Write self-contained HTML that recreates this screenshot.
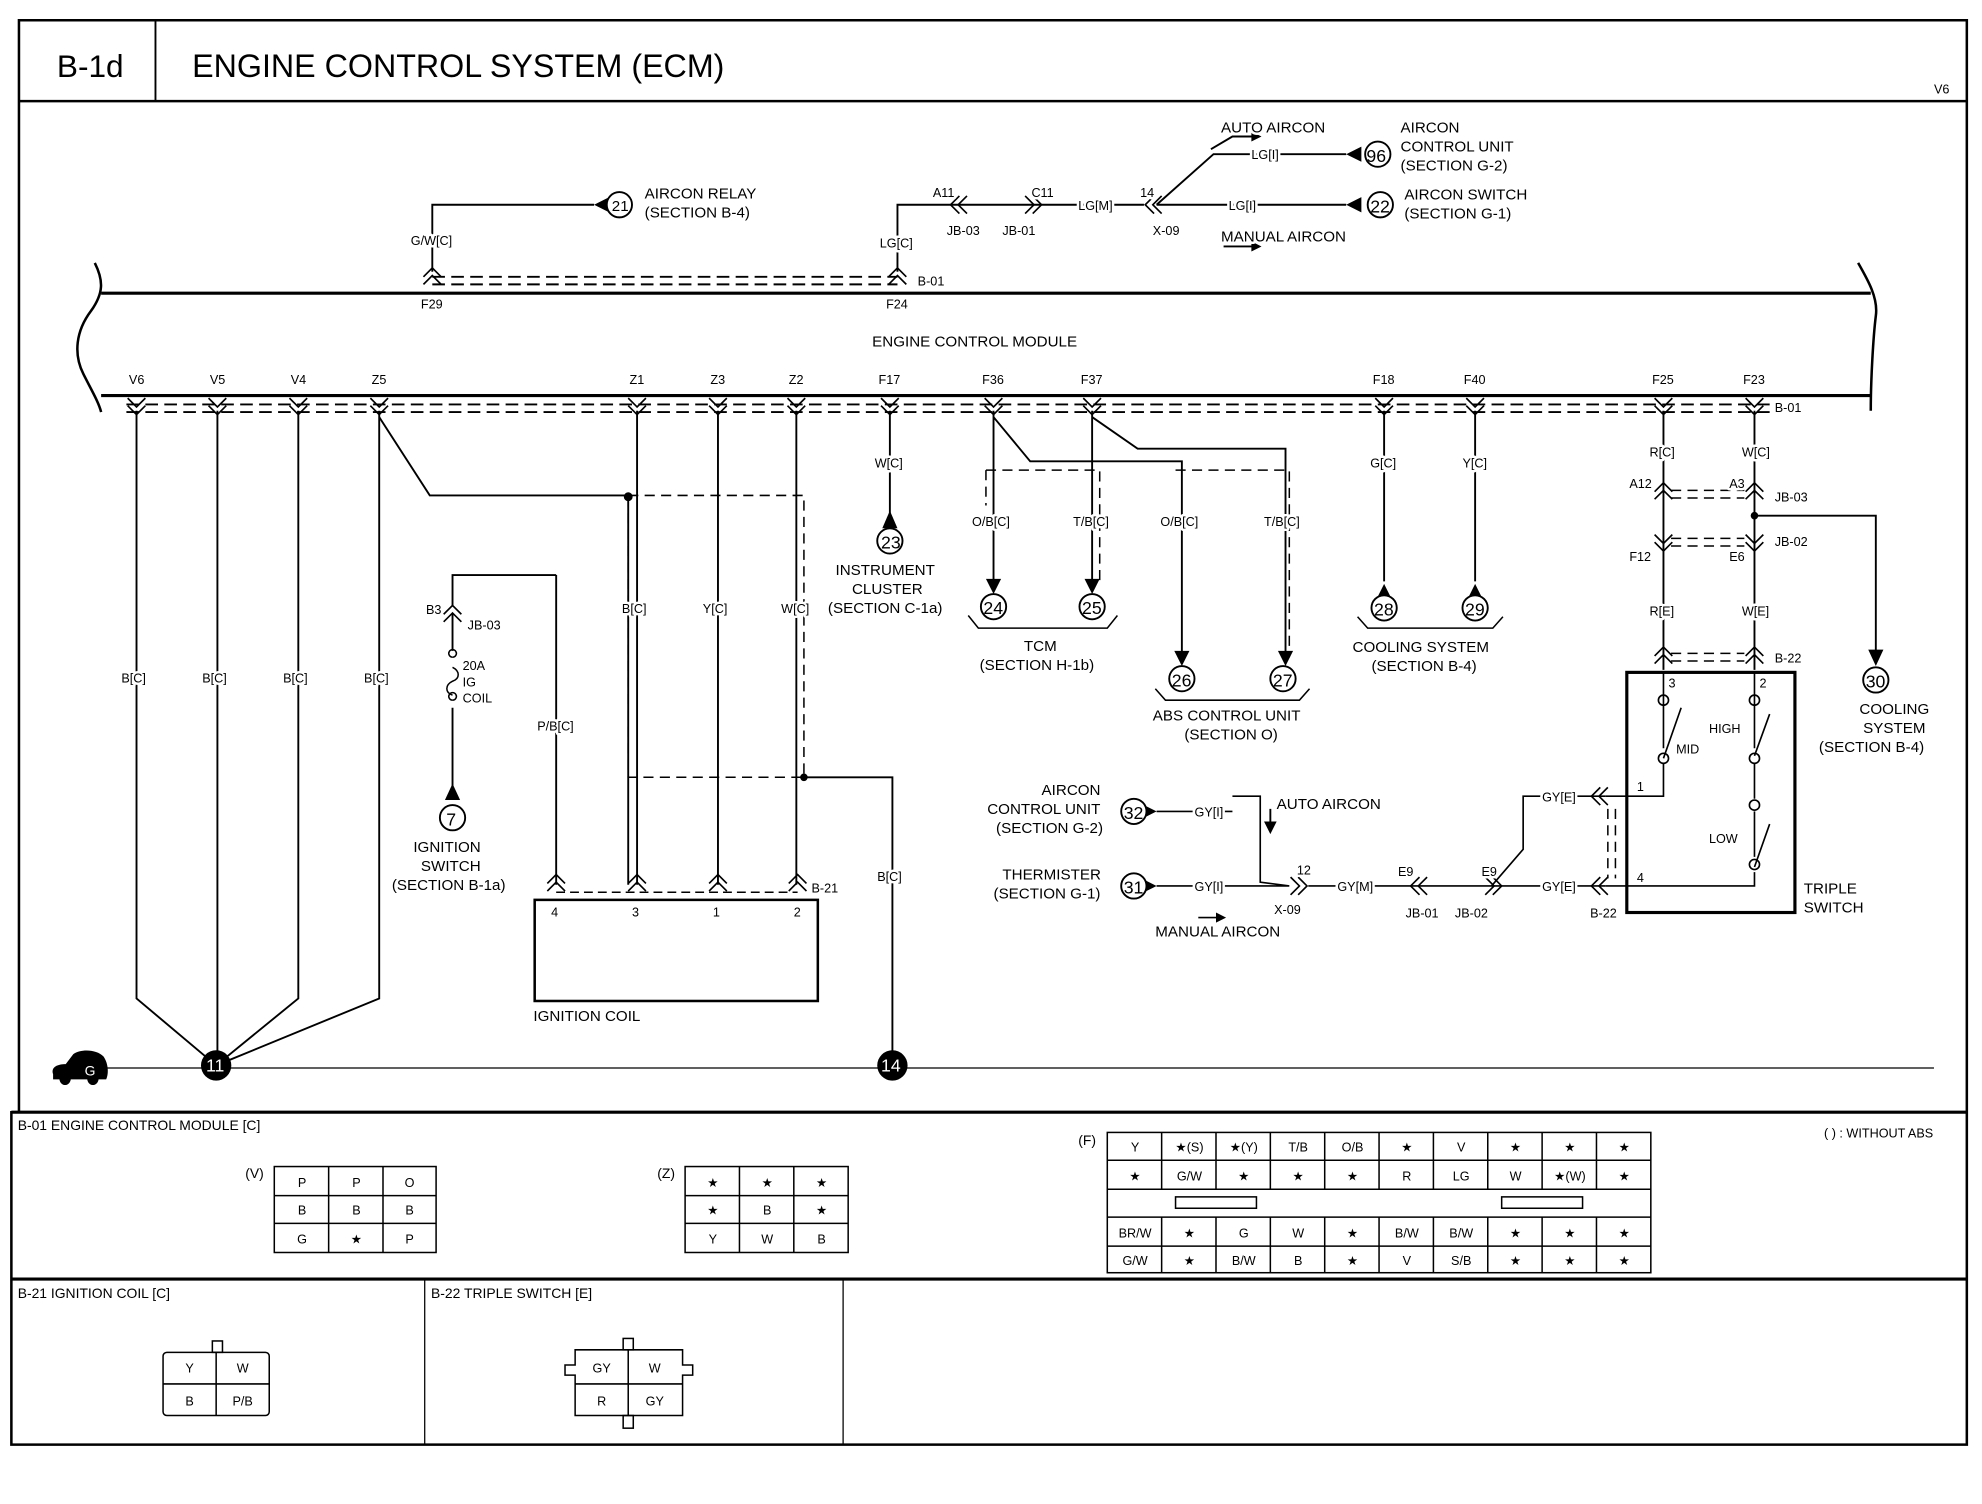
<!DOCTYPE html>
<html><head><meta charset="utf-8"><style>
html,body{margin:0;padding:0;background:#fff;}
svg{display:block;}
text{font-family:"Liberation Sans",sans-serif;fill:#000;}
.lb text{stroke:#fff;stroke-width:4px;paint-order:stroke;stroke-linejoin:round;}
</style></head><body>
<svg width="1982" height="1504" viewBox="0 0 1568 1190" preserveAspectRatio="none" xmlns="http://www.w3.org/2000/svg">
<defs>
<path id="cd" d="M-7,-7 L0,0 L7,-7 M-7,-1 L0,6 L7,-1" fill="none" stroke="#000" stroke-width="1.3"/>
<path id="cu" d="M-7,7 L0,0 L7,7 M-7,1 L0,-6 L7,1" fill="none" stroke="#000" stroke-width="1.3"/>
<path id="cr" d="M-7,-7 L0,0 L-7,7 M-1,-7 L6,0 L-1,7" fill="none" stroke="#000" stroke-width="1.3"/>
<path id="cl" d="M7,-7 L0,0 L7,7 M1,-7 L-6,0 L1,7" fill="none" stroke="#000" stroke-width="1.3"/>
</defs>
<g fill="none" stroke="#000">
<path d="M15,16 H1556 V1143 H9 V880 H15 Z" stroke-width="2"/>
<line x1="15" y1="80" x2="1556" y2="80" stroke-width="2"/>
<line x1="123" y1="16" x2="123" y2="80" stroke-width="1.5"/>
<line x1="9" y1="880" x2="1556" y2="880" stroke-width="2.5"/>
<line x1="9" y1="1012" x2="1556" y2="1012" stroke-width="2.5"/>
<line x1="336" y1="1012" x2="336" y2="1143" stroke-width="1"/>
<line x1="667" y1="1012" x2="667" y2="1143" stroke-width="1"/>
<line x1="80" y1="232" x2="1480" y2="232" stroke-width="2.5"/>
<line x1="80" y1="313" x2="1480" y2="313" stroke-width="2.5"/>
<path d="M75,208 C82,222 82,232 72,246 C60,262 58,280 66,296 C72,308 78,318 80,326" stroke-width="2"/>
<path d="M1470,208 C1478,222 1486,236 1484,250 C1482,266 1480,300 1480,325" stroke-width="2"/>
<line x1="100" y1="320" x2="1400" y2="320" stroke-width="1.5" stroke-dasharray="10,5"/>
<line x1="100" y1="326" x2="1400" y2="326" stroke-width="1.5" stroke-dasharray="10,5"/>
<line x1="342" y1="219" x2="710" y2="219" stroke-width="1.5" stroke-dasharray="10,5"/>
<line x1="342" y1="225" x2="710" y2="225" stroke-width="1.5" stroke-dasharray="10,5"/>
<path d="M342,215 V162 H470" stroke-width="1.5"/>
<path d="M710,215 V162 H905" stroke-width="1.5"/>
<path d="M915,162 H1065 M915,162 L960,122 H1065 M958,118 L975,108 H995" stroke-width="1.5"/>
<path d="M968,195 H995" stroke-width="1.5"/>
<path d="M108,325 V790 L171,843 M172,325 V843 M236,325 V790 L171,843 M300,325 V790 L171,843" stroke-width="1.5"/>
<path d="M300,330 L340,392 H497 V700 M504,325 V700 M568,325 V700 M630,325 V700" stroke-width="1.5"/>
<path d="M497,392 H636 V615 H497 V392" stroke-width="1.2" stroke-dasharray="8,5"/>
<path d="M636,615 H706 V843" stroke-width="1.5"/>
<line x1="440" y1="455" x2="440" y2="700" stroke-width="1.5"/>
<path d="M358,480 V455 H440" stroke-width="1.5"/>
<path d="M358,485 V515 M358,560 V625" stroke-width="1.5"/>
<path d="M358,520 a3,3 0 1 1 0.1,0 M358,528 c6,3 6,9 0,11 c-6,3 -6,9 0,11 M358,554 a3,3 0 1 1 0.1,0" stroke-width="1.2"/>
<rect x="423" y="712" width="224" height="80" stroke-width="2"/>
<line x1="440" y1="706" x2="631" y2="706" stroke-width="1.2" stroke-dasharray="7,4"/>
<line x1="704" y1="325" x2="704" y2="412" stroke-width="1.5"/>
<path d="M786,325 V460 M864,325 V460" stroke-width="1.5"/>
<path d="M786,330 L815,365 H935 V520 M864,330 L900,355 H1017 V520" stroke-width="1.5"/>
<path d="M780,372 H870 V460 M780,372 V400" stroke-width="1.2" stroke-dasharray="8,5"/>
<path d="M930,372 H1020 V520" stroke-width="1.2" stroke-dasharray="8,5"/>
<path d="M1095,325 V460 M1167,325 V460" stroke-width="1.5"/>
<path d="M1316,325 V530 M1388,325 V530" stroke-width="1.5"/>
<path d="M1322,388 H1380 M1322,394 H1380 M1322,426 H1380 M1322,432 H1380 M1322,517 H1380 M1322,523 H1380" stroke-width="1.2" stroke-dasharray="8,5"/>
<path d="M1388,408 H1484 V520" stroke-width="1.5"/>
<circle cx="1388" cy="408" r="2.5" fill="#000"/>
<circle cx="497" cy="393" r="3" fill="#000"/>
<circle cx="636" cy="615" r="2.5" fill="#000"/>
<rect x="1287" y="532" width="133" height="190" stroke-width="2.5"/>
<path d="M1316,532 V592 M1316,604 V630 H1270 M1388,532 V592 M1388,604 V632 M1388,642 V678 M1388,690 V701 H1270" stroke-width="1.3"/>
<path d="M1316,600 L1330,560 M1388,598 L1400,565 M1388,686 L1400,652" stroke-width="1.3"/>
<circle cx="1316" cy="554" r="4" stroke-width="1.3"/><circle cx="1316" cy="600" r="4" stroke-width="1.3"/>
<circle cx="1388" cy="554" r="4" stroke-width="1.3"/><circle cx="1388" cy="600" r="4" stroke-width="1.3"/>
<circle cx="1388" cy="637" r="4" stroke-width="1.3"/><circle cx="1388" cy="684" r="4" stroke-width="1.3"/>
<path d="M1272,640 V695 M1278,640 V695" stroke-width="1.2" stroke-dasharray="8,5"/>
<path d="M915,642 H975 M915,701 H1020 M975,630 H997 V698 L1020,701 M1035,701 H1270 M1180,701 L1205,672 V630 H1270" stroke-width="1.3"/>
<path d="M1005,640 V655" stroke-width="1.5"/>
<path d="M948,726 H965" stroke-width="1.3"/>
<line x1="85" y1="845" x2="1530" y2="845" stroke-width="1"/>
</g>
<g fill="#000">
<path d="M470,162 L482,156 L482,168Z"/>
<path d="M1065,122 L1077,116 L1077,128Z"/>
<path d="M1065,162 L1077,156 L1077,168Z"/>
<path d="M704,404 L698,418 L710,418Z"/>
<path d="M786,470 L780,458 L792,458Z"/>
<path d="M864,470 L858,458 L870,458Z"/>
<path d="M935,527 L929,515 L941,515Z"/>
<path d="M1017,527 L1011,515 L1023,515Z"/>
<path d="M1095,462 L1089,474 L1101,474Z"/>
<path d="M1167,462 L1161,474 L1173,474Z"/>
<path d="M1484,527 L1478,514 L1490,514Z"/>
<path d="M358,620 L352,633 L364,633Z"/>
<path d="M915,642 L905,637 L905,647Z"/>
<path d="M915,701 L905,696 L905,706Z"/>
<path d="M1005,660 L1000,650 L1010,650Z"/>
<path d="M970,726 L962,722 L962,730Z"/>
<path d="M998,108 L990,104 L990,112Z"/>
<path d="M998,195 L990,191 L990,199Z"/>
</g>
<g fill="#fff" stroke="#000" stroke-width="1.5">
<circle cx="490" cy="162" r="10"/><circle cx="1090" cy="122" r="10"/><circle cx="1092" cy="162" r="10"/>
<circle cx="704" cy="428" r="10"/><circle cx="786" cy="480" r="10"/><circle cx="864" cy="480" r="10"/>
<circle cx="935" cy="537" r="10"/><circle cx="1015" cy="537" r="10"/><circle cx="1095" cy="481" r="10"/>
<circle cx="1167" cy="481" r="10"/><circle cx="1484" cy="538" r="10"/><circle cx="358" cy="647" r="10"/>
<circle cx="897" cy="642" r="10"/><circle cx="897" cy="701" r="10"/>
</g>
<circle cx="171" cy="843" r="12" fill="#000"/>
<circle cx="706" cy="843" r="12" fill="#000"/>
<path d="M42,850 C40,844 46,842 52,842 L58,834 C64,830 76,830 82,836 C86,842 86,850 84,854 H78 C77,860 70,860 69,854 H56 C55,860 48,860 47,854 H42 Z" fill="#000"/>
<g fill="none" stroke="#000" stroke-width="1.2">
<path d="M766,487 L774,497 H876 L884,487"/>
<path d="M914,545 L922,554 H1028 L1036,545"/>
<path d="M1074,488 L1082,497 H1181 L1189,488"/>
</g>
<g>
<use href="#cd" x="108" y="322"/><use href="#cd" x="172" y="322"/><use href="#cd" x="236" y="322"/><use href="#cd" x="300" y="322"/>
<use href="#cd" x="504" y="322"/><use href="#cd" x="568" y="322"/><use href="#cd" x="630" y="322"/><use href="#cd" x="704" y="322"/>
<use href="#cd" x="786" y="322"/><use href="#cd" x="864" y="322"/><use href="#cd" x="1095" y="322"/><use href="#cd" x="1167" y="322"/>
<use href="#cd" x="1316" y="322"/><use href="#cd" x="1388" y="322"/>
<use href="#cu" x="342" y="218"/><use href="#cu" x="710" y="218"/>
<use href="#cu" x="440" y="698"/><use href="#cu" x="504" y="698"/><use href="#cu" x="568" y="698"/><use href="#cu" x="631" y="698"/>
<use href="#cu" x="358" y="485"/>
<use href="#cu" x="1316" y="388"/><use href="#cu" x="1388" y="388"/>
<use href="#cd" x="1316" y="430"/><use href="#cd" x="1388" y="430"/>
<use href="#cu" x="1316" y="518"/><use href="#cu" x="1388" y="518"/>
<use href="#cl" x="758" y="162"/><use href="#cr" x="818" y="162"/><use href="#cl" x="912" y="162"/>
<use href="#cr" x="1028" y="701"/><use href="#cl" x="1122" y="701"/><use href="#cr" x="1182" y="701"/>
<use href="#cl" x="1265" y="630"/><use href="#cl" x="1265" y="701"/>
</g>
<text x="45" y="61" font-size="25">B-1d</text>
<text x="152" y="61" font-size="25.5">ENGINE CONTROL SYSTEM (ECM)</text>
<text x="1530" y="74" font-size="10">V6</text>
<g font-size="10" class="lb">
<text x="690" y="274" font-size="12">ENGINE CONTROL MODULE</text>
<text x="102" y="304">V6</text><text x="166" y="304">V5</text><text x="230" y="304">V4</text><text x="294" y="304">Z5</text>
<text x="498" y="304">Z1</text><text x="562" y="304">Z3</text><text x="624" y="304">Z2</text><text x="695" y="304">F17</text>
<text x="777" y="304">F36</text><text x="855" y="304">F37</text><text x="1086" y="304">F18</text><text x="1158" y="304">F40</text>
<text x="1307" y="304">F25</text><text x="1379" y="304">F23</text><text x="1404" y="326">B-01</text>
<text x="325" y="194">G/W[C]</text><text x="333" y="244">F29</text>
<text x="696" y="196">LG[C]</text><text x="701" y="244">F24</text><text x="726" y="226">B-01</text>
<text x="738" y="156">A11</text><text x="749" y="186">JB-03</text><text x="816" y="156">C11</text><text x="793" y="186">JB-01</text>
<text x="853" y="166">LG[M]</text><text x="902" y="156">14</text><text x="912" y="186">X-09</text>
<text x="990" y="126">LG[I]</text><text x="972" y="166">LG[I]</text>
<text x="966" y="105" font-size="12">AUTO AIRCON</text><text x="966" y="191" font-size="12">MANUAL AIRCON</text>
<text x="1108" y="105" font-size="12">AIRCON</text><text x="1108" y="120" font-size="12">CONTROL UNIT</text><text x="1108" y="135" font-size="12">(SECTION G-2)</text>
<text x="1111" y="158" font-size="12">AIRCON SWITCH</text><text x="1111" y="173" font-size="12">(SECTION G-1)</text>
<text x="510" y="157" font-size="12">AIRCON RELAY</text><text x="510" y="172" font-size="12">(SECTION B-4)</text>
<text x="96" y="540">B[C]</text><text x="160" y="540">B[C]</text><text x="224" y="540">B[C]</text><text x="288" y="540">B[C]</text>
<text x="492" y="485">B[C]</text><text x="556" y="485">Y[C]</text><text x="618" y="485">W[C]</text>
<text x="425" y="578">P/B[C]</text><text x="337" y="486">B3</text><text x="370" y="498">JB-03</text>
<text x="366" y="530">20A</text><text x="366" y="543">IG</text><text x="366" y="556">COIL</text>
<text x="327" y="674" font-size="12">IGNITION</text><text x="333" y="689" font-size="12">SWITCH</text><text x="310" y="704" font-size="12">(SECTION B-1a)</text>
<text x="436" y="725">4</text><text x="500" y="725">3</text><text x="564" y="725">1</text><text x="628" y="725">2</text><text x="642" y="706">B-21</text>
<text x="422" y="808" font-size="12">IGNITION COIL</text>
<text x="694" y="697">B[C]</text><text x="692" y="370">W[C]</text>
<text x="661" y="455" font-size="12">INSTRUMENT</text><text x="674" y="470" font-size="12">CLUSTER</text><text x="655" y="485" font-size="12">(SECTION C-1a)</text>
<text x="769" y="416">O/B[C]</text><text x="849" y="416">T/B[C]</text><text x="918" y="416">O/B[C]</text><text x="1000" y="416">T/B[C]</text>
<text x="810" y="515" font-size="12">TCM</text><text x="775" y="530" font-size="12">(SECTION H-1b)</text>
<text x="912" y="570" font-size="12">ABS CONTROL UNIT</text><text x="937" y="585" font-size="12">(SECTION O)</text>
<text x="1084" y="370">G[C]</text><text x="1157" y="370">Y[C]</text>
<text x="1070" y="516" font-size="12">COOLING SYSTEM</text><text x="1085" y="531" font-size="12">(SECTION B-4)</text>
<text x="1305" y="361">R[C]</text><text x="1378" y="361">W[C]</text>
<text x="1289" y="386">A12</text><text x="1368" y="386">A3</text><text x="1404" y="397">JB-03</text>
<text x="1289" y="444">F12</text><text x="1368" y="444">E6</text><text x="1404" y="432">JB-02</text>
<text x="1305" y="487">R[E]</text><text x="1378" y="487">W[E]</text><text x="1404" y="524">B-22</text>
<text x="1320" y="544">3</text><text x="1392" y="544">2</text><text x="1295" y="626">1</text><text x="1295" y="698">4</text>
<text x="1352" y="580">HIGH</text><text x="1326" y="596">MID</text><text x="1352" y="667">LOW</text>
<text x="1427" y="707" font-size="12">TRIPLE</text><text x="1427" y="722" font-size="12">SWITCH</text>
<text x="1471" y="565" font-size="12">COOLING</text><text x="1474" y="580" font-size="12">SYSTEM</text><text x="1439" y="595" font-size="12">(SECTION B-4)</text>
<text x="1220" y="634">GY[E]</text><text x="1220" y="705">GY[E]</text><text x="1258" y="726">B-22</text>
<text x="824" y="629" font-size="12">AIRCON</text><text x="781" y="644" font-size="12">CONTROL UNIT</text><text x="788" y="659" font-size="12">(SECTION G-2)</text>
<text x="793" y="696" font-size="12">THERMISTER</text><text x="786" y="711" font-size="12">(SECTION G-1)</text>
<text x="945" y="646">GY[I]</text><text x="945" y="705">GY[I]</text>
<text x="1010" y="640" font-size="12">AUTO AIRCON</text><text x="914" y="741" font-size="12">MANUAL AIRCON</text>
<text x="1026" y="692">12</text><text x="1008" y="723">X-09</text><text x="1058" y="705">GY[M]</text>
<text x="1106" y="693">E9</text><text x="1172" y="693">E9</text><text x="1112" y="726">JB-01</text><text x="1151" y="726">JB-02</text>
</g>
<g font-size="14"><text x="484" y="167" font-size="12">21</text><text x="1081" y="128">96</text><text x="1084" y="168">22</text>
<text x="697" y="434">23</text><text x="778" y="486">24</text><text x="856" y="486">25</text>
<text x="927" y="543">26</text><text x="1007" y="543">27</text><text x="1087" y="487">28</text>
<text x="1159" y="487">29</text><text x="1476" y="544">30</text><text x="353" y="653">7</text>
<text x="889" y="648">32</text><text x="889" y="707">31</text></g>
<text x="163" y="848" font-size="14" style="fill:#fff">11</text><text x="697" y="848" font-size="14" style="fill:#fff">14</text>
<text x="67" y="851" font-size="11" style="fill:#fff">G</text>
<g font-size="11">
<text x="14" y="894">B-01 ENGINE CONTROL MODULE [C]</text>
<text x="1443" y="900" font-size="10">( ) : WITHOUT ABS</text>
<text x="194" y="932">(V)</text><text x="520" y="932">(Z)</text><text x="853" y="906">(F)</text>
<text x="14" y="1027">B-21 IGNITION COIL [C]</text><text x="341" y="1027">B-22 TRIPLE SWITCH [E]</text>
</g>
<g fill="none" stroke="#000" stroke-width="1.2">
<rect x="217" y="923" width="128" height="68"/>
<path d="M260,923 V991 M303,923 V991 M217,946 H345 M217,968 H345"/>
<rect x="542" y="923" width="129" height="68"/>
<path d="M585,923 V991 M628,923 V991 M542,946 H671 M542,968 H671"/>
<rect x="876" y="896" width="430" height="111"/>
<path d="M876,918 H1306 M876,941 H1306 M876,963 H1306 M876,986 H1306"/>
<path d="M919,896 V941 M962,896 V941 M1005,896 V941 M1048,896 V941 M1091,896 V941 M1134,896 V941 M1177,896 V941 M1220,896 V941 M1263,896 V941"/>
<path d="M919,963 V1007 M962,963 V1007 M1005,963 V1007 M1048,963 V1007 M1091,963 V1007 M1134,963 V1007 M1177,963 V1007 M1220,963 V1007 M1263,963 V1007"/>
<rect x="930" y="947" width="64" height="9"/><rect x="1188" y="947" width="64" height="9"/>
<rect x="129" y="1070" width="84" height="50" rx="3"/><path d="M171,1070 V1120 M129,1095 H213"/>
<rect x="168" y="1061" width="8" height="9"/>
<path d="M455,1068 H540 V1080 H548 V1088 H540 V1120 H455 V1088 H447 V1080 H455 Z"/><path d="M497,1068 V1120 M455,1095 H540"/>
<rect x="493" y="1059" width="8" height="9"/><rect x="493" y="1120" width="8" height="10"/>
</g>
<g font-size="10" text-anchor="middle">
<text x="239" y="939">P</text><text x="282" y="939">P</text><text x="324" y="939">O</text>
<text x="239" y="961">B</text><text x="282" y="961">B</text><text x="324" y="961">B</text>
<text x="239" y="984">G</text><text x="282" y="984">★</text><text x="324" y="984">P</text>
<text x="564" y="939">★</text><text x="607" y="939">★</text><text x="650" y="939">★</text>
<text x="564" y="961">★</text><text x="607" y="961">B</text><text x="650" y="961">★</text>
<text x="564" y="984">Y</text><text x="607" y="984">W</text><text x="650" y="984">B</text>
<text x="898" y="911">Y</text><text x="941" y="911">★(S)</text><text x="984" y="911">★(Y)</text><text x="1027" y="911">T/B</text><text x="1070" y="911">O/B</text><text x="1113" y="911">★</text><text x="1156" y="911">V</text><text x="1199" y="911">★</text><text x="1242" y="911">★</text><text x="1285" y="911">★</text>
<text x="898" y="934">★</text><text x="941" y="934">G/W</text><text x="984" y="934">★</text><text x="1027" y="934">★</text><text x="1070" y="934">★</text><text x="1113" y="934">R</text><text x="1156" y="934">LG</text><text x="1199" y="934">W</text><text x="1242" y="934">★(W)</text><text x="1285" y="934">★</text>
<text x="898" y="979">BR/W</text><text x="941" y="979">★</text><text x="984" y="979">G</text><text x="1027" y="979">W</text><text x="1070" y="979">★</text><text x="1113" y="979">B/W</text><text x="1156" y="979">B/W</text><text x="1199" y="979">★</text><text x="1242" y="979">★</text><text x="1285" y="979">★</text>
<text x="898" y="1001">G/W</text><text x="941" y="1001">★</text><text x="984" y="1001">B/W</text><text x="1027" y="1001">B</text><text x="1070" y="1001">★</text><text x="1113" y="1001">V</text><text x="1156" y="1001">S/B</text><text x="1199" y="1001">★</text><text x="1242" y="1001">★</text><text x="1285" y="1001">★</text>
<text x="150" y="1086">Y</text><text x="192" y="1086">W</text><text x="150" y="1112">B</text><text x="192" y="1112">P/B</text>
<text x="476" y="1086">GY</text><text x="518" y="1086">W</text><text x="476" y="1112">R</text><text x="518" y="1112">GY</text>
</g>
</svg>
</body></html>
